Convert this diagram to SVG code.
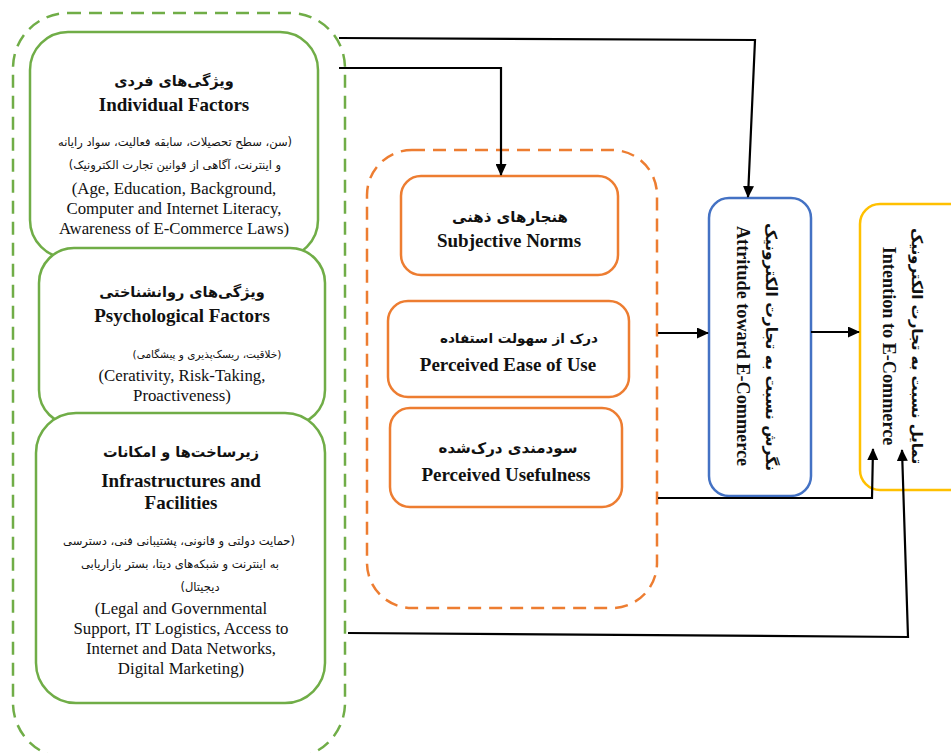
<svg xmlns="http://www.w3.org/2000/svg" width="951" height="753" viewBox="0 0 951 753">
<defs>
<style>
.g{fill:#fff;stroke:#70AD47;stroke-width:2.5}
.gd{fill:none;stroke:#70AD47;stroke-width:2.5;stroke-dasharray:13 8}
.o{fill:#fff;stroke:#ED7D31;stroke-width:2.5}
.od{fill:none;stroke:#ED7D31;stroke-width:2.5;stroke-dasharray:13 8}
.b{fill:#fff;stroke:#4472C4;stroke-width:2.5}
.y{fill:#fff;stroke:#FFC000;stroke-width:2.5}
.c{fill:none;stroke:#000;stroke-width:2.2;marker-end:url(#ah)}
text{fill:#111;text-anchor:middle}
.fab{font-family:"DejaVu Sans","Liberation Sans",sans-serif;direction:rtl;font-weight:bold;font-size:14.5px}
.fas{font-family:"DejaVu Sans","Liberation Sans",sans-serif;direction:rtl;font-size:11.5px}
.en{font-family:"Liberation Serif","Times New Roman",serif;font-size:16.8px}
.enb{font-family:"Liberation Serif","Times New Roman",serif;font-size:19px;font-weight:bold}
.rot{font-size:18.2px}
</style>
<marker id="ah" markerWidth="12" markerHeight="11" refX="11" refY="5.5" orient="auto" markerUnits="userSpaceOnUse">
<path d="M0,0 L12,5.5 L0,11 z" fill="#000"/>
</marker>
</defs>
<rect width="951" height="753" fill="#fff"/>

<g id="group-left">
<rect class="gd" x="13" y="13" width="332" height="745" rx="55"/>
</g>
<g id="group-mid">
<rect class="od" x="367" y="150" width="290" height="458" rx="45"/>
</g>

<g id="individual">
<rect class="g" x="30" y="32" width="288" height="226" rx="38"/>
<text class="fab" x="174" y="86">ویژگی‌های فردی</text>
<text class="enb" x="174" y="111">Individual Factors</text>
<text class="fas" x="175" y="146">(سن، سطح تحصیلات، سابقه فعالیت، سواد رایانه</text>
<text class="fas" x="175" y="169">و اینترنت، آگاهی از قوانین تجارت الکترونیک)</text>
<text class="en" x="174" y="194">(Age, Education, Background,</text>
<text class="en" x="174" y="214">Computer and Internet Literacy,</text>
<text class="en" x="174" y="234">Awareness of E-Commerce Laws)</text>
</g>

<g id="psychological">
<rect class="g" x="39" y="248" width="286" height="177" rx="35"/>
<text class="fab" x="182" y="297">ویژگی‌های روانشناختی</text>
<text class="enb" x="182" y="322">Psychological Factors</text>
<text class="fas" x="207" y="358" style="font-size:10.5px">(خلاقیت، ریسک‌پذیری و پیشگامی)</text>
<text class="en" x="182" y="381">(Cerativity, Risk-Taking,</text>
<text class="en" x="182" y="401">Proactiveness)</text>
</g>

<g id="infrastructure">
<rect class="g" x="36" y="413" width="289" height="290" rx="40"/>
<text class="fab" x="181" y="457">زیرساخت‌ها و امکانات</text>
<text class="enb" x="181" y="487">Infrastructures and</text>
<text class="enb" x="181" y="509">Facilities</text>
<text class="fas" x="179" y="545">(حمایت دولتی و قانونی، پشتیبانی فنی، دسترسی</text>
<text class="fas" x="180" y="568">به اینترنت و شبکه‌های دیتا، بستر بازاریابی</text>
<text class="fas" x="200" y="591">دیجیتال)</text>
<text class="en" x="181" y="614">(Legal and Governmental</text>
<text class="en" x="181" y="634">Support, IT Logistics, Access to</text>
<text class="en" x="181" y="654">Internet and Data Networks,</text>
<text class="en" x="181" y="674">Digital Marketing)</text>
</g>

<g id="subjective-norms">
<rect class="o" x="401" y="176" width="217" height="99" rx="20"/>
<text class="fab" x="510" y="222" style="font-size:15px">هنجارهای ذهنی</text>
<text class="enb" x="509" y="247">Subjective Norms</text>
</g>

<g id="ease-of-use">
<rect class="o" x="388" y="301" width="241" height="96" rx="20"/>
<text class="fab" x="519" y="343" style="font-size:13.5px">درک از سهولت استفاده</text>
<text class="enb" x="508" y="371">Perceived Ease of Use</text>
</g>

<g id="usefulness">
<rect class="o" x="390" y="408" width="232" height="99" rx="20"/>
<text class="fab" x="508" y="453" style="font-size:15px">سودمندی درک‌شده</text>
<text class="enb" x="506" y="481">Perceived Usefulness</text>
</g>

<g id="attitude">
<rect class="b" x="709" y="198" width="102" height="298" rx="20"/>
<text class="fab" transform="translate(766,347) rotate(90)" style="font-size:15.5px">نگرش نسبت به تجارت الکترونیک</text>
<text class="enb rot" transform="translate(737,346) rotate(90)">Attritude toward E-Commerce</text>
</g>

<g id="intention">
<rect class="y" x="860" y="204" width="110" height="286" rx="20"/>
<text class="fab" transform="translate(912,346) rotate(90)" style="font-size:15px">تمایل نسبت به تجارت الکترونیک</text>
<text class="enb rot" transform="translate(883,346) rotate(90)">Intention to E-Commerce</text>
</g>

<g id="connectors">
<path class="c" d="M339,38 L755,40 L748,197"/>
<path class="c" d="M339,68 L501,68 L501,175"/>
<path class="c" d="M658,333 L708,333"/>
<path class="c" d="M811,332 L859,332"/>
<path class="c" d="M658,498 L872,498 L873,449"/>
<path class="c" d="M348,633 L908,637 L902,450"/>
</g>
</svg>
